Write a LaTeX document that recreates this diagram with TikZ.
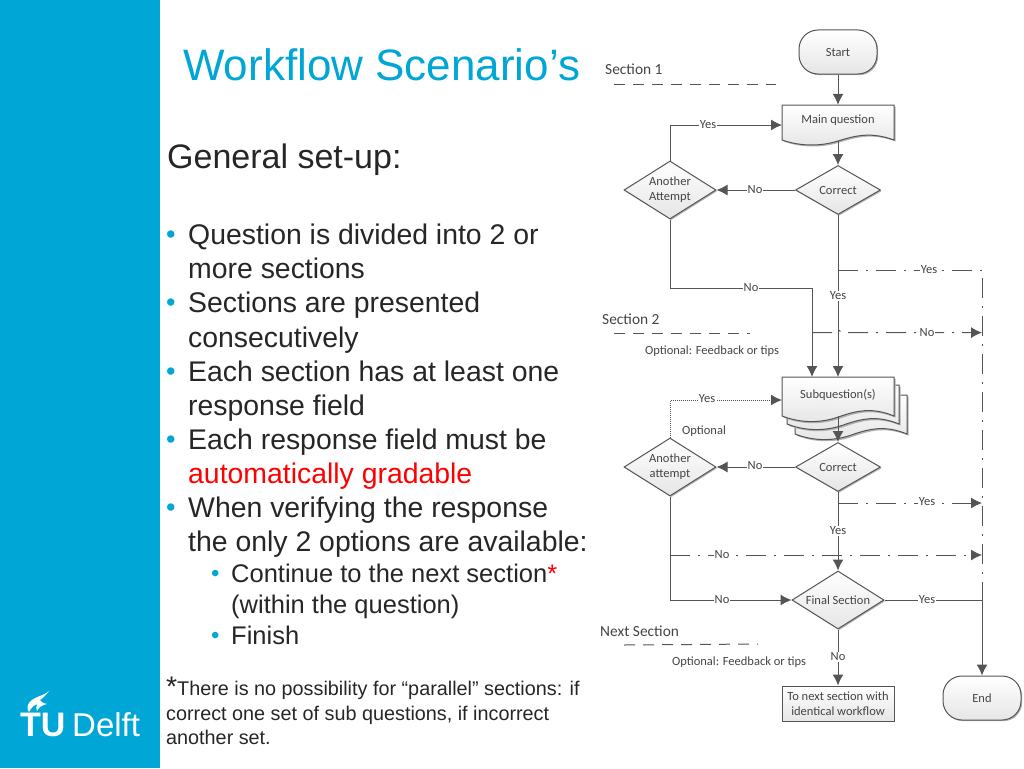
\documentclass[tikz,border=0pt]{standalone}
\usepackage{fontspec}
\usepackage{tikz}
\usetikzlibrary{arrows.meta,shapes.geometric,shadows}
\setmainfont{Liberation Sans}
\newfontfamily\flowfont{Carlito}
\definecolor{delftblue}{HTML}{00A6D6}
\definecolor{flowline}{HTML}{555555}
\definecolor{flowtext}{HTML}{444444}
\newcommand{\bodySize}[0]{\fontsize{28.4}{34}\selectfont}
\newcommand{\subSize}[0]{\fontsize{25.5}{30}\selectfont}
\newcommand{\noteSize}[0]{\fontsize{19.8}{24}\selectfont}
\newcommand{\flowSize}[0]{\flowfont\fontsize{12.5}{15}\selectfont}
% wavy sheet: top left corner, height
\newcommand{\sheet}[3]{
  \begin{scope}[shift={(#1,#2)},yscale=#3/35]
    \fill[black!30,xshift=1.5pt,yshift=-1.5pt] (0,0) -- (112,0) -- (112,35) .. controls (90,27) and (75,30) .. (56,36) .. controls (40,41) and (20,42) .. (0,35) -- cycle;
    \draw[flowbox] (0,0) -- (112,0) -- (112,35) .. controls (90,27) and (75,30) .. (56,36) .. controls (40,41) and (20,42) .. (0,35) -- cycle;
  \end{scope}
}
\tikzset{
  flowbox/.style={draw=flowline,line width=1pt,top color=white,bottom color=black!10},
  softshadow/.style={drop shadow={shadow xshift=1.2pt,shadow yshift=-1.2pt,opacity=.3,fill=black}},
  terminal/.style={flowbox,softshadow,rounded corners=19pt,minimum width=78pt,minimum height=44pt,inner sep=0pt,text=flowtext,font=\flowSize},
  decision/.style={flowbox,softshadow,diamond,aspect=1.72,inner sep=0pt,align=center,text=flowtext,font=\flowSize},
  sheettext/.style={inner sep=0pt,minimum width=112pt,minimum height=36pt,text height=8pt,text depth=7pt,text=flowtext,font=\flowSize},
  nextbox/.style={flowbox,softshadow,inner sep=0pt,minimum width=112pt,minimum height=35pt,align=center,text=flowtext,font=\flowSize},
  edgetext/.style={fill=white,inner sep=1pt,text=flowtext,font=\flowSize},
  plaintext/.style={inner sep=0pt,text=flowtext,font=\flowSize},
  sectiontext/.style={inner sep=0pt,anchor=west,text=flowtext,font=\flowfont\fontsize{15.4}{18}\selectfont},
  sectionline/.style={flowline,line width=1pt,dash pattern=on 11pt off 8pt},
  flow/.style={flowline,line width=1pt,-{Latex[length=11pt,width=11pt]}},
  flowplain/.style={flowline,line width=1pt},
  dotflow/.style={flow,densely dotted},
  altflow/.style={flow,dash pattern=on 20pt off 8pt on 2pt off 8pt},
  altplain/.style={flowplain,dash pattern=on 20pt off 8pt on 2pt off 8pt},
  bodyline/.style={inner sep=0pt,anchor=base west,text=black!85,font=\bodySize},
  bullet/.style={inner sep=0pt,anchor=base west,text=delftblue,font=\fontsize{27}{27}\selectfont},
}
\begin{document}
\begin{tikzpicture}[x=1pt,y=-1pt]
  \useasboundingbox (0,0) rectangle (1024,768);
  \fill[delftblue] (0,0) rectangle (160,768);
  % logo
  \fill[white] (49,691) .. controls (42,697) and (34,696) .. (29,703) .. controls (27,706) and (27,709) .. (29,712) .. controls (31,708) and (34,705) .. (37,704) .. controls (36,707) and (36,709) .. (37,711) .. controls (39,707) and (42,705) .. (47,704) .. controls (43,703) and (41,702) .. (40,700) .. controls (43,698) and (46,695) .. (49,691) -- cycle;
  \node (logotu) [inner sep=0pt,anchor=base west,text=white,font=\fontsize{34}{34}\selectfont\bfseries] at (20,736) {TU};
  \node (logodelft) [inner sep=0pt,anchor=base west,text=white,font=\fontsize{33}{33}\selectfont] at (72,736) {Delft};
  % text column
  \node (title) [inner sep=0pt,anchor=base west,text=delftblue,font=\fontsize{44}{50}\selectfont] at (183,81) {Workflow Scenario’s};
  \node (setup) [bodyline,font=\fontsize{34}{38}\selectfont] at (167,168) {General set-up:};
  \foreach \ypos/\txt [count=\i] in {
    244/Question is divided into 2 or,
    278/more sections,
    312/Sections are presented,
    347/consecutively,
    381/Each section has at least one,
    415/response field,
    449/Each response field must be,
    517/When verifying the response,
    551/the only 2 options are available:}
    \node (line\i) [bodyline] at (188,\ypos) {\txt};
  \node (redline) [bodyline,text=red] at (188,483) {automatically gradable};
  \foreach \ypos [count=\i] in {243,311,380,448,516}
    \node (dot\i) [bullet] at (166,\ypos) {•};
  \node (sub1) [bodyline,font=\subSize] at (231,582) {Continue to the next section\textcolor{red}{*}};
  \node (sub2) [bodyline,font=\subSize] at (231,613) {(within the question)};
  \node (sub3) [bodyline,font=\subSize] at (231,644) {Finish};
  \node (subdot1) [bullet,font=\fontsize{24}{24}\selectfont] at (211,581) {•};
  \node (subdot2) [bullet,font=\fontsize{24}{24}\selectfont] at (211,643) {•};
  \node (star) [bodyline] at (166,696) {*};
  \node (note1) [bodyline,font=\noteSize] at (177,695) {There is no possibility for “parallel” sections: if};
  \node (note2) [bodyline,font=\noteSize] at (166,720) {correct one set of sub questions, if incorrect};
  \node (note3) [bodyline,font=\noteSize] at (166,744) {another set.};
  % section marks
  \node (sec1) [sectiontext] at (605,69) {Section 1};
  \node (sec2) [sectiontext] at (602,319) {Section 2};
  \node (secnext) [sectiontext] at (600,631) {Next Section};
  \coordinate (secA) at (614,84);
  \coordinate (secB) at (776,84);
  \coordinate (secC) at (614,333);
  \coordinate (secD) at (750,333);
  \coordinate (secE) at (624,645);
  \coordinate (secF) at (758,644);
  \draw[sectionline] (secA) -- (secB);
  \draw[sectionline] (secC) -- (secD);
  \draw[sectionline] (secE) -- (secF);
  \node (tips1) [plaintext] at (712,351) {Optional: Feedback or tips};
  \node (tips2) [plaintext] at (739,662) {Optional: Feedback or tips};
  % shapes
  \sheet{782}{105}{35}
  \sheet{795}{395}{39}
  \sheet{787}{385}{39}
  \sheet{782}{377}{39}
  \node (start) [terminal] at (838,52) {Start};
  \node (end) [terminal] at (982,698) {End};
  \node (mainq) [sheettext] at (838,123) {Main question};
  \node (subq) [sheettext] at (838,398) {Subquestion(s)};
  \node (correct1) [decision,minimum width=85pt,minimum height=49pt] at (838,190) {Correct};
  \node (attempt1) [decision,minimum width=92pt,minimum height=58pt] at (670,190) {Another\\Attempt};
  \node (correct2) [decision,minimum width=85pt,minimum height=49pt] at (838,467) {Correct};
  \node (attempt2) [decision,minimum width=92pt,minimum height=58pt] at (670,467) {Another\\attempt};
  \node (final) [decision,minimum width=92pt,minimum height=58pt] at (838,600) {Final Section};
  \node (nextq) [nextbox] at (838,703.5) {To next section with\\identical workflow};
  % connectors
  \coordinate (mainin) at (782,125);
  \coordinate (subin) at (782,400);
  \coordinate (subtop) at (812,377);
  \coordinate (subtopmid) at (838,377);
  \coordinate (altyes1) at (838,270);
  \coordinate (altcorner) at (982,270);
  \coordinate (altno1) at (812,332.6);
  \coordinate (altno1a) at (834,332.6);
  \coordinate (altno1b) at (842,332.6);
  \coordinate (altend1) at (982,332.6);
  \coordinate (altyes2) at (838,503);
  \coordinate (altend2) at (982,503);
  \coordinate (altno2) at (670,555);
  \coordinate (altend3) at (982,555);
  \coordinate (joinend) at (982,600);
  \coordinate (belowattempt) at (812,288);
  \draw[flow] (start) -- (mainq.north);
  \draw[flow] (mainq.south) -- (correct1.north);
  \draw[flow] (correct1.west) -- (attempt1.east);
  \draw[flow] (attempt1.north) |- (mainin);
  \draw[flow] (attempt1.south) |- (belowattempt) -- (subtop);
  \draw[flow] (correct1.south) -- (subtopmid);
  \draw[altplain] (altyes1) -- (altcorner) -- (joinend);
  \draw[altflow] (altno1) -- (altno1a) .. controls (836,329) and (838,329) .. (altno1b) -- (altend1);
  \draw[dotflow] (attempt2.north) |- (subin);
  \draw[flow] (subq.south) -- (correct2.north);
  \draw[flow] (correct2.west) -- (attempt2.east);
  \draw[altflow] (altyes2) -- (altend2);
  \draw[flow] (correct2.south) -- (final.north);
  \draw[altflow] (altno2) -- (altend3);
  \draw[flow] (attempt2.south) |- (final.west);
  \draw[flowplain] (final.east) -- (joinend);
  \draw[flow] (joinend) -- (end.north);
  \draw[flow] (final.south) -- (nextq.north);
  % connector labels
  \node (yes1) [edgetext] at (708,125) {Yes};
  \node (no1) [edgetext] at (755,190) {No};
  \node (no2) [edgetext] at (751,288) {No};
  \node (yes2) [edgetext] at (838,296) {Yes};
  \node (yes3) [edgetext] at (929,270) {Yes};
  \node (no3) [edgetext] at (927,333) {No};
  \node (yes4) [edgetext] at (707,399) {Yes};
  \node (optional) [plaintext] at (704,431) {Optional};
  \node (no4) [edgetext] at (755,466) {No};
  \node (yes5) [edgetext] at (927,502) {Yes};
  \node (yes6) [edgetext] at (838,531) {Yes};
  \node (no5) [edgetext] at (722,555) {No};
  \node (no6) [edgetext] at (722,600) {No};
  \node (yes7) [edgetext] at (927,600) {Yes};
  \node (no7) [edgetext] at (838,657) {No};
\end{tikzpicture}
\end{document}
